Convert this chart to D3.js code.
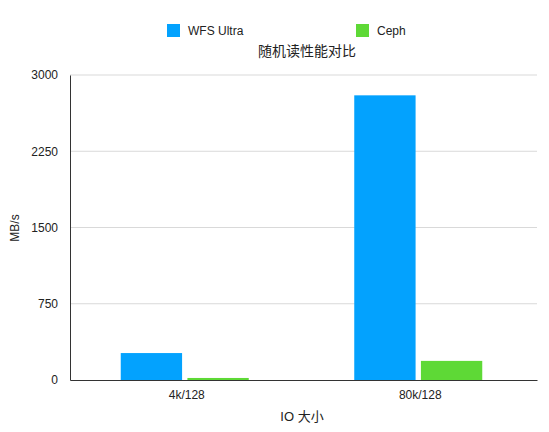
<!DOCTYPE html>
<html><head><meta charset="utf-8">
<script src="https://cdn.jsdelivr.net/npm/d3@7"></script>
<style>body{margin:0;background:#fff}text{font-family:"Helvetica","Liberation Sans","Noto Sans CJK SC",sans-serif}</style>
</head><body>
<svg id="c" width="549" height="432"></svg>
<script>
const categories = ['4k/128', '80k/128'];
const seriesNames = ['WFS Ultra', 'Ceph'];
const wfsValues = [265, 2800];
const cephValues = [20, 188];
const yTicks = [0, 750, 1500, 2250, 3000];
const colors = ['#03a2fe', '#5ed936'];

const svg = d3.select('#c');
const m = {left: 70, right: 12, top: 75, bottom: 52};
const W = 549, H = 432;

const x = d3.scaleBand().domain(categories).range([m.left, W - m.right]);
const xs = d3.scaleBand().domain(seriesNames).range([0, 128]).paddingInner(0.08);
const y = d3.scaleLinear().domain([0, 3000]).range([H - m.bottom, m.top]);

// gridlines
svg.append('g').selectAll('line').data(yTicks.slice(1)).join('line')
  .attr('x1', m.left).attr('x2', W - m.right)
  .attr('y1', d => y(d)).attr('y2', d => y(d))
  .attr('stroke', '#d9d9d9');

const data = categories.map((c, i) => ({c, vals: [wfsValues[i], cephValues[i]]}));
svg.append('g').selectAll('g').data(data).join('g')
  .attr('transform', d => `translate(${x(d.c) + (x.bandwidth() - 128) / 2 - 2},0)`)
  .selectAll('rect').data(d => d.vals.map((v, j) => ({v, s: seriesNames[j], j})))
  .join('rect')
  .attr('x', d => xs(d.s)).attr('width', xs.bandwidth())
  .attr('y', d => y(d.v)).attr('height', d => y(0) - y(d.v))
  .attr('fill', d => colors[d.j]);

// axes
const yAxis = svg.append('g').attr('transform', `translate(${m.left},0)`)
  .call(d3.axisLeft(y).tickValues(yTicks).tickFormat(d3.format('d')).tickSize(0).tickPadding(12));
yAxis.select('.domain').attr('stroke', '#333');
yAxis.selectAll('text').attr('font-size', 12).attr('fill', '#222');

const xAxis = svg.append('g').attr('transform', `translate(0,${y(0)})`)
  .call(d3.axisBottom(x).tickSize(0).tickPadding(10));
xAxis.select('.domain').attr('stroke', '#333');
xAxis.selectAll('text').attr('font-size', 12).attr('fill', '#222');

svg.append('text').attr('x', 302).attr('y', 421).attr('text-anchor', 'middle')
  .attr('font-size', 13).attr('fill', '#222').text('IO 大小');
svg.append('text').attr('transform', 'translate(19,228) rotate(-90)')
  .attr('text-anchor', 'middle').attr('font-size', 12).attr('fill', '#222').text('MB/s');
svg.append('text').attr('x', 307).attr('y', 56).attr('text-anchor', 'middle')
  .attr('font-size', 14).attr('fill', '#222').text('随机读性能对比');

// legend
const legX = [167, 356];
const leg = svg.append('g').selectAll('g').data(seriesNames).join('g')
  .attr('transform', (d, i) => `translate(${legX[i]},24)`);
leg.append('rect').attr('width', 13).attr('height', 13).attr('fill', (d, i) => colors[i]);
leg.append('text').attr('x', 21).attr('y', 11).attr('font-size', 12).attr('fill', '#222').text(d => d);
</script>
</body></html>
